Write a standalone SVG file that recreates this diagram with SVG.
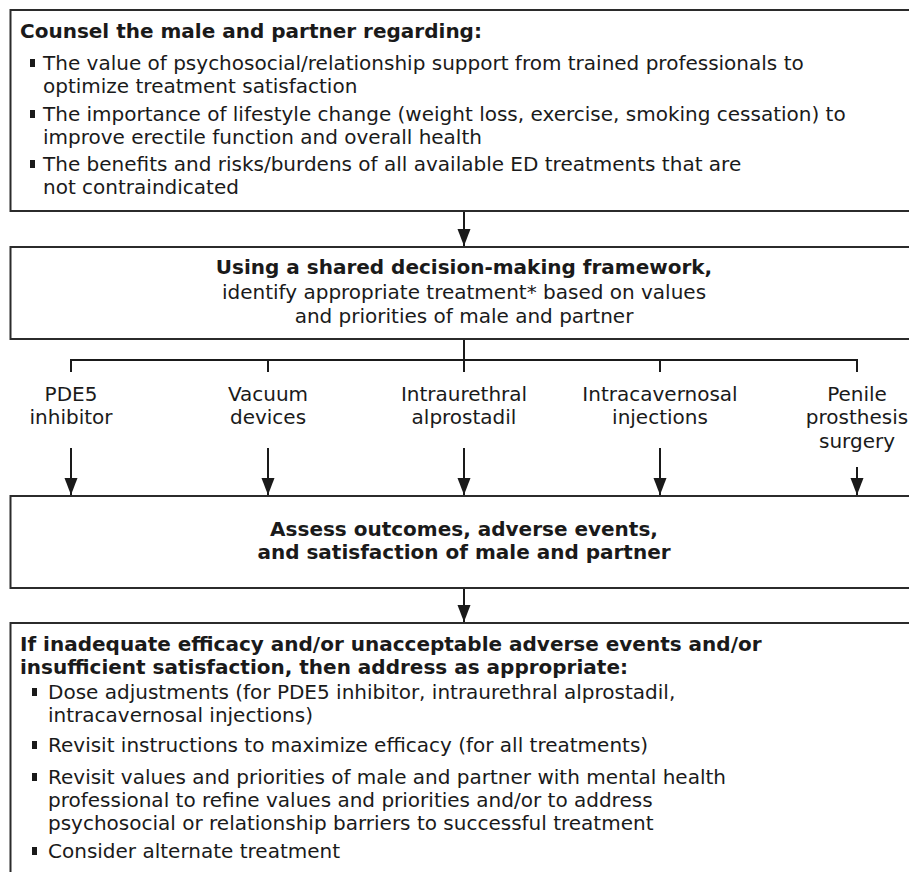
<svg xmlns="http://www.w3.org/2000/svg" width="909" height="872" viewBox="0 0 909 872">
<defs>
<style>
.box{fill:#fff;stroke:#2b2b2b;stroke-width:2}
.t{font-family:"DejaVu Sans",Verdana,sans-serif;font-size:20px;fill:#1a1a1a}
.b{font-weight:bold}
.c{text-anchor:middle}
.bul{fill:#1a1a1a}
.ln{stroke:#1a1a1a;stroke-width:2;fill:none}
</style>
<marker id="ah" markerUnits="userSpaceOnUse" markerWidth="18" markerHeight="14" refX="17" refY="6.5" orient="auto" viewBox="0 0 18 13">
<path d="M0,0 L17,6.5 L0,13 z" fill="#1a1a1a"/>
</marker>
</defs>
<rect width="909" height="872" fill="#fff"/>

<g id="connectors">
<line class="ln" x1="464" y1="211" x2="464" y2="246" marker-end="url(#ah)"/>
<polyline class="ln" points="71,372 71,360 857,360 857,372"/>
<line class="ln" x1="464" y1="339" x2="464" y2="372"/>
<line class="ln" x1="268" y1="360" x2="268" y2="372"/>
<line class="ln" x1="660" y1="360" x2="660" y2="372"/>
<line class="ln" x1="71" y1="448" x2="71" y2="495" marker-end="url(#ah)"/>
<line class="ln" x1="268" y1="448" x2="268" y2="495" marker-end="url(#ah)"/>
<line class="ln" x1="464" y1="448" x2="464" y2="495" marker-end="url(#ah)"/>
<line class="ln" x1="660" y1="448" x2="660" y2="495" marker-end="url(#ah)"/>
<line class="ln" x1="857" y1="467" x2="857" y2="495" marker-end="url(#ah)"/>
<line class="ln" x1="464" y1="588" x2="464" y2="622" marker-end="url(#ah)"/>
</g>

<g id="counsel">
<rect class="box" x="10.5" y="10" width="907" height="201"/>
<text class="t b" x="20" y="38">Counsel the male and partner regarding:</text>
<rect class="bul" x="30" y="59" width="5" height="8"/>
<text class="t" x="43" y="70">The value of psychosocial/relationship support from trained professionals to<tspan x="43" dy="23">optimize treatment satisfaction</tspan></text>
<rect class="bul" x="30" y="110" width="5" height="8"/>
<text class="t" x="43" y="121">The importance of lifestyle change (weight loss, exercise, smoking cessation) to<tspan x="43" dy="23">improve erectile function and overall health</tspan></text>
<rect class="bul" x="30" y="160" width="5" height="8"/>
<text class="t" x="43" y="171">The benefits and risks/burdens of all available ED treatments that are<tspan x="43" dy="23">not contraindicated</tspan></text>
</g>

<g id="shared-decision">
<rect class="box" x="10.5" y="247" width="907" height="92"/>
<text class="t c" x="464" y="274"><tspan class="b">Using a shared decision-making framework,</tspan><tspan x="464" dy="25">identify appropriate treatment* based on values</tspan><tspan x="464" dy="24">and priorities of male and partner</tspan></text>
</g>

<g id="pde5"><text class="t c" x="71" y="401">PDE5<tspan x="71" dy="23">inhibitor</tspan></text></g>
<g id="vacuum"><text class="t c" x="268" y="401">Vacuum<tspan x="268" dy="23">devices</tspan></text></g>
<g id="intraurethral"><text class="t c" x="464" y="401">Intraurethral<tspan x="464" dy="23">alprostadil</tspan></text></g>
<g id="intracavernosal"><text class="t c" x="660" y="401">Intracavernosal<tspan x="660" dy="23">injections</tspan></text></g>
<g id="prosthesis"><text class="t c" x="857" y="401">Penile<tspan x="857" dy="23">prosthesis</tspan><tspan x="857" dy="24">surgery</tspan></text></g>

<g id="assess">
<rect class="box" x="10.5" y="496" width="907" height="92"/>
<text class="t b c" x="464" y="536">Assess outcomes, adverse events,<tspan x="464" dy="23">and satisfaction of male and partner</tspan></text>
</g>

<g id="address">
<rect class="box" x="10.5" y="623" width="907" height="260"/>
<text class="t b" x="20" y="651">If inadequate efficacy and/or unacceptable adverse events and/or<tspan x="20" dy="23">insufficient satisfaction, then address as appropriate:</tspan></text>
<rect class="bul" x="32" y="688" width="5" height="8"/>
<text class="t" x="48" y="699">Dose adjustments (for PDE5 inhibitor, intraurethral alprostadil,<tspan x="48" dy="23">intracavernosal injections)</tspan></text>
<rect class="bul" x="32" y="741" width="5" height="8"/>
<text class="t" x="48" y="752">Revisit instructions to maximize efficacy (for all treatments)</text>
<rect class="bul" x="32" y="773" width="5" height="8"/>
<text class="t" x="48" y="784">Revisit values and priorities of male and partner with mental health<tspan x="48" dy="23">professional to refine values and priorities and/or to address</tspan><tspan x="48" dy="23">psychosocial or relationship barriers to successful treatment</tspan></text>
<rect class="bul" x="32" y="847" width="5" height="8"/>
<text class="t" x="48" y="858">Consider alternate treatment</text>
</g>
</svg>
